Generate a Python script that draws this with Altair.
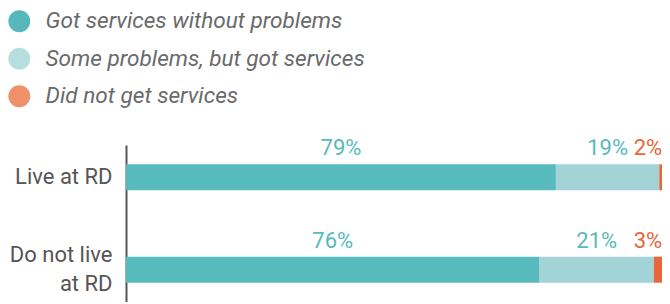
import altair as alt
import pandas as pd

groups = ["Live at RD", "Do not live at RD"]
categories = ["Got services without problems", "Some problems, but got services", "Did not get services"]
live_values = [79, 19, 2]
notlive_values = [76, 21, 3]
bar_colors = ["#57BABC", "#A2D3D6", "#E8663A"]
legend_colors = ["#56B8BA", "#B5DEDF", "#EF9068"]
label_colors = ["#57BABC", "#57BABC", "#E8663A"]

rows = []
for g, vals in zip(groups, [live_values, notlive_values]):
    start = 0
    for i, (c, v) in enumerate(zip(categories, vals)):
        rows.append({"group": g, "cat": c, "order": i, "value": v,
                     "start": start, "end": start + v, "mid": start + v / 2,
                     "label": f"{v}%", "last": i == len(categories) - 1,
                     "lcolor": label_colors[i]})
        start += v
df = pd.DataFrame(rows)

label_font = "Roboto"
# the reference chart is cut off at its right edge: 100% lies just beyond the plot
xscale = alt.Scale(domain=[0, 98.5], nice=False, zero=True)
yscale = alt.Scale(domain=groups, paddingInner=0.3, paddingOuter=0.0)

base = alt.Chart(df)

bars = base.mark_bar(size=26, clip=True).encode(
    x=alt.X("start:Q", scale=xscale, axis=None),
    x2="end:Q",
    y=alt.Y("group:N", scale=yscale, sort=groups,
            axis=alt.Axis(title=None, ticks=False, grid=False, domain=True,
                          domainColor="#555555", domainWidth=2,
                          labelFont=label_font, labelFontSize=22,
                          labelColor="#555555", labelPadding=14,
                          labelLimit=200, labelLineHeight=29,
                          labelOffset={"condition": {"test": "datum.value == 'Do not live at RD'", "value": -15}, "value": 0},
                          labelExpr="datum.value == 'Do not live at RD' ? ['Do not live', 'at RD'] : datum.value")),
    color=alt.Color("cat:N", scale=alt.Scale(domain=categories, range=bar_colors), legend=None),
    order="order:Q",
)

legend_layer = base.transform_filter("false").mark_point(filled=True, shape="circle").encode(
    x=alt.X("start:Q", scale=xscale),
    y=alt.Y("group:N", scale=yscale, sort=groups),
    fill=alt.Fill("cat:N", scale=alt.Scale(domain=categories, range=legend_colors),
                  sort=categories,
                  legend=alt.Legend(title=None, orient="none", legendX=-118, legendY=-135,
                                    symbolType="circle", symbolSize=480,
                                    symbolOpacity=1, symbolStrokeWidth=0,
                                    labelFont="Roboto", labelFontStyle="italic",
                                    labelFontSize=22.6, labelColor="#6a6a6a",
                                    labelLimit=400, rowPadding=14.5, labelOffset=15)),
)

mid_labels = base.transform_filter("!datum.last").mark_text(
    font=label_font, fontSize=22, baseline="middle", align="center", dy=-29
).encode(
    x=alt.X("mid:Q", scale=xscale),
    y=alt.Y("group:N", scale=yscale, sort=groups),
    text="label:N",
    color=alt.Color("lcolor:N", scale=None),
)

end_labels = base.transform_filter("datum.last").mark_text(
    font=label_font, fontSize=22, baseline="middle", align="right", dy=-29, dx=-8
).encode(
    x=alt.X("end:Q", scale=xscale),
    y=alt.Y("group:N", scale=yscale, sort=groups),
    text="label:N",
    color=alt.Color("lcolor:N", scale=None),
)

chart = alt.layer(bars, legend_layer, mid_labels, end_labels).resolve_scale(
    color="independent", fill="independent"
).properties(
    width=536, height=157,
    autosize=alt.AutoSizeParams(type="none"),
    padding={"left": 118, "top": 137, "right": 0, "bottom": 0},
).configure_view(stroke=None)

chart.save("out.html", embed_options={"renderer": "svg", "actions": False})
